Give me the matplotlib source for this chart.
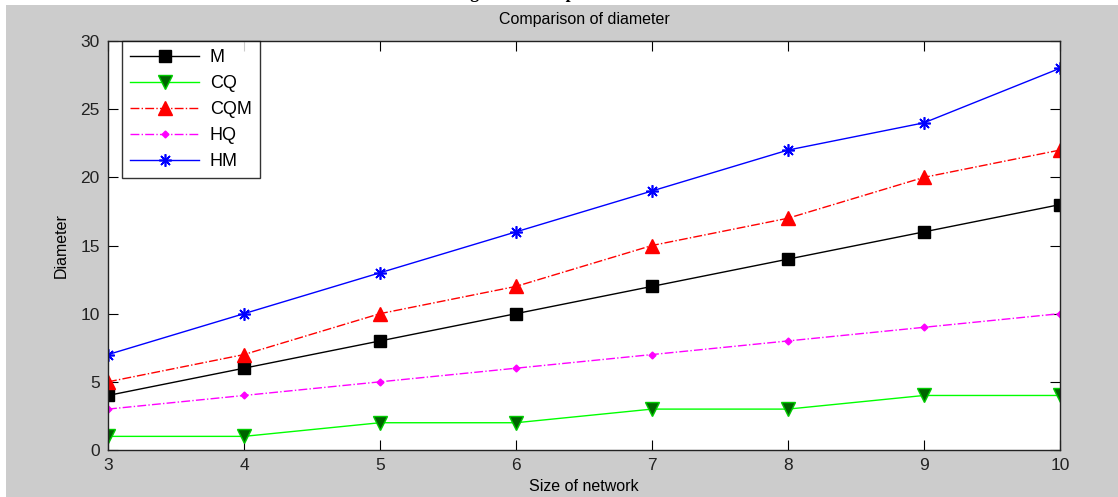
import matplotlib
matplotlib.use("Agg")
import matplotlib.pyplot as plt
from matplotlib.patches import Rectangle

# data
sizes = [3, 4, 5, 6, 7, 8, 9, 10]
m_vals = [4, 6, 8, 10, 12, 14, 16, 18]
cq_vals = [1, 1, 2, 2, 3, 3, 4, 4]
cqm_vals = [5, 7, 10, 12, 15, 17, 20, 22]
hq_vals = [3, 4, 5, 6, 7, 8, 9, 10]
hm_vals = [7, 10, 13, 16, 19, 22, 24, 28]
y_ticks = [0, 5, 10, 15, 20, 25, 30]

plt.rcParams['font.family'] = ['Liberation Sans Narrow', 'Liberation Sans', 'DejaVu Sans']

fig = plt.figure(figsize=(11.18, 4.97), dpi=100, facecolor='white')
# grey matlab window background
fig.patches.append(Rectangle((6 / 1118, 0), 1, 1 - 5 / 497, transform=fig.transFigure,
                             facecolor='#cccccc', edgecolor='none', zorder=-10))
# caption of the document, cut off at the top edge
fig.text(0.58, 1.0 + 0.014, 'Figure 4: Comparison of diameter vs. network size', ha='center', va='center',
         family='Liberation Serif', weight='bold', fontsize=13)

ax = fig.add_axes([108 / 1118, 47 / 497, 952 / 1118, 409 / 497])
ax.set_facecolor('white')

ax.plot(sizes, m_vals, color='black', linestyle='-', linewidth=1,
        marker='s', markersize=9, markerfacecolor='black', label='M')
ax.plot(sizes, cq_vals, color='#00ff00', linestyle='-', linewidth=1,
        marker='v', markersize=10, markerfacecolor='#006400', markeredgecolor='#00cc00', label='CQ')
ax.plot(sizes, cqm_vals, color='red', linestyle='-.', linewidth=1,
        marker='^', markersize=10, markerfacecolor='red', label='CQM')
ax.plot(sizes, hq_vals, color='magenta', linestyle='-.', linewidth=1,
        marker='D', markersize=3.5, markerfacecolor='magenta', label='HQ')
ax.plot(sizes, hm_vals, color='blue', linestyle='-', linewidth=1,
        marker=(8, 2, 0), markersize=9, markeredgewidth=1.2, label='HM')

ax.set_xlim(3, 10)
ax.set_ylim(0, 30)
ax.set_xticks(sizes)
ax.set_yticks(y_ticks)
ax.tick_params(direction='in', length=7, top=True, right=True, labelsize=12.5, colors='black',
               labelcolor='#222222', pad=6)
for s in ax.spines.values():
    s.set_color('#222222')
    s.set_linewidth(1)

ax.set_title('Comparison of diameter', fontsize=11.5, pad=12)
ax.set_xlabel('Size of network', fontsize=11.5, labelpad=4)
ax.set_ylabel('Diameter', fontsize=11.5, labelpad=8)

leg = ax.legend(loc='upper left', bbox_to_anchor=(0.015, 1.0), fontsize=13, frameon=True,
                fancybox=False, edgecolor='black', borderpad=0.45, handlelength=3.8,
                labelspacing=0.5, borderaxespad=0.0, handletextpad=0.6)
leg.get_frame().set_linewidth(1)

fig.savefig('out.png', dpi=100, facecolor=fig.get_facecolor())
